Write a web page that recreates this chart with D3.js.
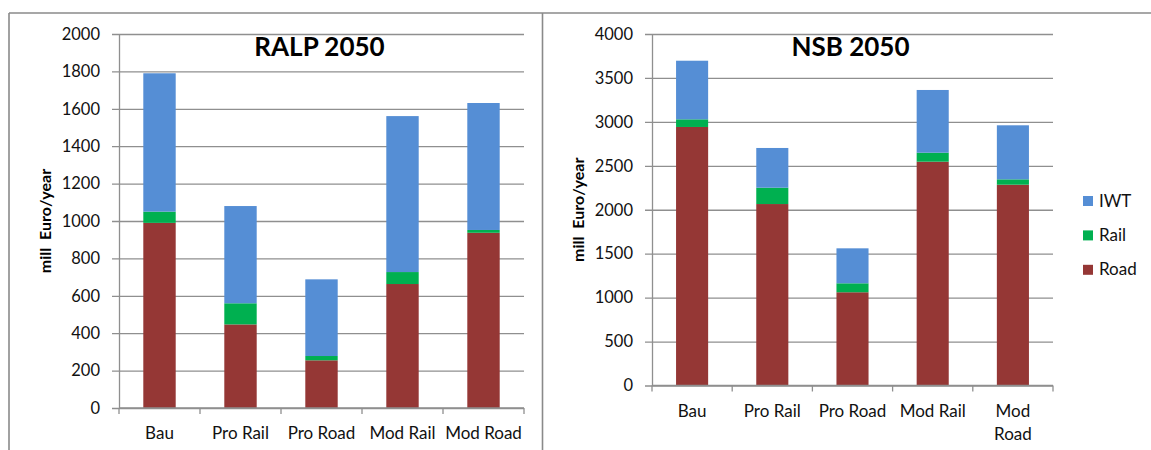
<!DOCTYPE html>
<html>
<head>
<meta charset="utf-8">
<script src="https://cdn.jsdelivr.net/npm/d3@7"></script>
<style>
  html, body { margin: 0; padding: 0; background: #fff; }
  svg { display: block; font-family: Lato, "Open Sans", sans-serif; }
</style>
</head>
<body>
<svg id="chart" width="1151" height="450"></svg>
<script>
// ---------- data ----------
const categories = ["Bau", "Pro Rail", "Pro Road", "Mod Rail", "Mod Road"];
const series = ["Road", "Rail", "IWT"];
const legendOrder = ["IWT", "Rail", "Road"];

const ralpRoad = [990, 447, 255, 663, 937];
const ralpRail = [60, 113, 23, 64, 15];
const ralpIWT  = [740, 520, 410, 834, 679];
const ralpTicks = [0, 200, 400, 600, 800, 1000, 1200, 1400, 1600, 1800, 2000];

const nsbRoad = [2942, 2065, 1061, 2547, 2285];
const nsbRail = [87, 186, 102, 102, 61];
const nsbIWT  = [667, 452, 398, 714, 615];
const nsbTicks = [0, 500, 1000, 1500, 2000, 2500, 3000, 3500, 4000];

const ralpLabels = [["Bau"], ["Pro Rail"], ["Pro Road"], ["Mod Rail"], ["Mod Road"]];
const nsbLabels  = [["Bau"], ["Pro Rail"], ["Pro Road"], ["Mod Rail"], ["Mod", "Road"]];

// ---------- styles ----------
const colors = { Road: "#953735", Rail: "#00B050", IWT: "#558ED5" };
const gridColor = "#8f8f8f";
const frameColor = "#8a8a8a";

const svg = d3.select("#chart");

// frame lines
svg.append("line").attr("x1", 9).attr("x2", 1151).attr("y1", 13).attr("y2", 13)
  .attr("stroke", frameColor).attr("stroke-width", 1.6);
svg.append("line").attr("x1", 9).attr("x2", 9).attr("y1", 13).attr("y2", 450)
  .attr("stroke", frameColor).attr("stroke-width", 1.6);
svg.append("line").attr("x1", 542.5).attr("x2", 542.5).attr("y1", 13).attr("y2", 450)
  .attr("stroke", frameColor).attr("stroke-width", 1.6);

function drawChart(cfg) {
  const rows = categories.map((c, i) => ({
    cat: c, Road: cfg.road[i], Rail: cfg.rail[i], IWT: cfg.iwt[i]
  }));
  const stacked = d3.stack().keys(series)(rows);

  const x = d3.scaleBand().domain(categories)
    .range([cfg.left, cfg.right]).paddingInner(0.6).paddingOuter(0.3);
  const y = d3.scaleLinear().domain([0, d3.max(cfg.ticks)])
    .range([cfg.bottom, cfg.top]);
  const width = cfg.right - cfg.left;

  const g = svg.append("g");

  // gridlines
  const grid = g.append("g").attr("transform", `translate(${cfg.right},0)`)
    .call(d3.axisLeft(y).tickValues(cfg.ticks).tickSize(width + 7).tickFormat(""));
  grid.select(".domain").remove();
  grid.selectAll("line").attr("stroke", gridColor).attr("stroke-width", 1.3);

  // y axis
  const ya = g.append("g").attr("transform", `translate(${cfg.left},0)`)
    .call(d3.axisLeft(y).tickValues(cfg.ticks).tickSize(0).tickPadding(19).tickFormat(d3.format("d")));
  ya.select(".domain").attr("stroke", gridColor).attr("stroke-width", 1.3);
  ya.selectAll("text").attr("font-size", 16.5).attr("fill", "#111")
    .attr("font-family", "Lato, sans-serif");

  // bars
  g.append("g").selectAll("g").data(stacked).join("g")
    .attr("fill", d => colors[d.key])
    .selectAll("rect").data(d => d).join("rect")
    .attr("x", d => x(d.data.cat))
    .attr("width", x.bandwidth())
    .attr("y", d => y(d[1]))
    .attr("height", d => y(d[0]) - y(d[1]));

  // x axis line and category boundary ticks
  g.append("line").attr("x1", cfg.left).attr("x2", cfg.right)
    .attr("y1", y(0)).attr("y2", y(0)).attr("stroke", gridColor).attr("stroke-width", 1.3);
  const step = x.step();
  const bounds = d3.range(categories.length + 1).map(i => x(categories[0]) - x.paddingOuter() * step + i * step);
  g.append("g").selectAll("line").data(bounds).join("line")
    .attr("x1", d => d).attr("x2", d => d)
    .attr("y1", y(0)).attr("y2", y(0) + 6)
    .attr("stroke", gridColor).attr("stroke-width", 1.3);

  // x labels
  const xl = g.append("g").selectAll("text").data(categories).join("text")
    .attr("x", d => x(d) + x.bandwidth() / 2)
    .attr("y", y(0) + 31)
    .attr("text-anchor", "middle").attr("font-size", 17).attr("fill", "#111");
  xl.selectAll("tspan").data((d, i) => cfg.labels[i]).join("tspan")
    .attr("x", function () { return d3.select(this.parentNode).attr("x"); })
    .attr("dy", (d, i) => i === 0 ? 0 : 23)
    .text(d => d);

  // title
  g.append("text").attr("x", (cfg.left + cfg.right) / 2 - 2).attr("y", 56)
    .attr("text-anchor", "middle").attr("font-size", 26).attr("font-weight", "bold")
    .attr("fill", "#000").text(cfg.title);

  // y label
  g.append("text")
    .attr("transform", `translate(${cfg.ylabelX},${(cfg.top + cfg.bottom) / 2}) rotate(-90)`)
    .attr("text-anchor", "middle").attr("font-size", 16).attr("font-weight", "bold")
    .attr("fill", "#000").attr("xml:space", "preserve").text("mill  Euro/year");

  return { x, y };
}

drawChart({
  road: ralpRoad, rail: ralpRail, iwt: ralpIWT, ticks: ralpTicks, labels: ralpLabels,
  left: 119, right: 524, top: 34, bottom: 408, title: "RALP 2050", ylabelX: 51
});

drawChart({
  road: nsbRoad, rail: nsbRail, iwt: nsbIWT, ticks: nsbTicks, labels: nsbLabels,
  left: 652, right: 1053, top: 34, bottom: 385.5, title: "NSB 2050", ylabelX: 584
});

// legend
const leg = svg.append("g").selectAll("g").data(legendOrder).join("g")
  .attr("transform", (d, i) => `translate(1083,${196 + i * 34.4})`);
leg.append("rect").attr("width", 10).attr("height", 10).attr("fill", d => colors[d]);
leg.append("text").attr("x", 16).attr("y", 10.5).attr("font-size", 17).attr("fill", "#111").text(d => d);
</script>
</body>
</html>
